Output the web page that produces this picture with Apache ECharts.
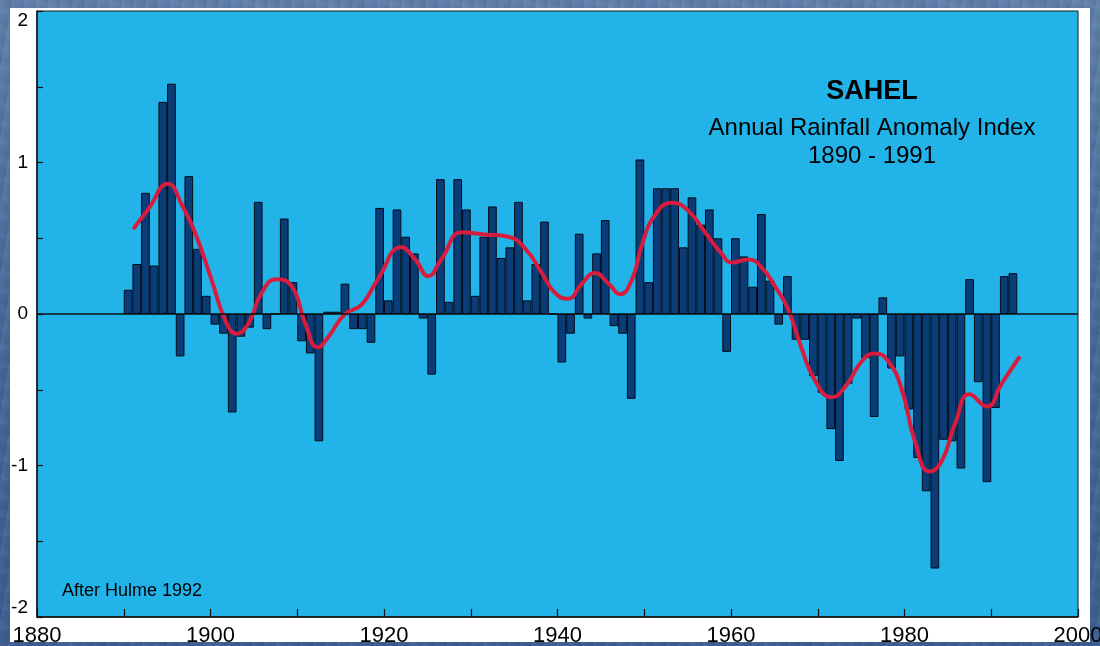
<!DOCTYPE html>
<html>
<head>
<meta charset="utf-8">
<title>Sahel Annual Rainfall Anomaly Index</title>
<script src="https://cdn.jsdelivr.net/npm/echarts@6/dist/echarts.min.js"></script>
<style>
  html, body { margin: 0; padding: 0; }
  body {
    width: 1100px; height: 646px; overflow: hidden; position: relative;
    background:
      repeating-linear-gradient(100deg, rgba(255,255,255,0.05) 0px, rgba(255,255,255,0.0) 6px, rgba(0,0,0,0.05) 12px),
      repeating-linear-gradient(15deg, rgba(255,255,255,0.04) 0px, rgba(0,0,0,0.04) 9px, rgba(255,255,255,0.0) 18px),
      linear-gradient(180deg, #5f7fab 0%, #47699a 50%, #3b5e91 100%);
  }
  #panel { position: absolute; left: 10px; top: 8px; width: 1080px; height: 634px; background: #ffffff; }
  #chart { position: absolute; left: 0; top: 0; width: 1100px; height: 646px; }
</style>
</head>
<body>
<div id="panel"></div>
<div id="chart"></div>
<script>
// Sahel annual rainfall anomaly index, one bar per year starting in firstYear
const firstYear = 1890;
const anomalies = [
  0.16, 0.33, 0.80, 0.32, 1.40, 1.52, -0.28, 0.91, 0.43, 0.12,
  -0.07, -0.13, -0.65, -0.15, -0.09, 0.74, -0.10, 0.00, 0.63, 0.21,
  -0.18, -0.26, -0.84, 0.015, 0.015, 0.20, -0.10, -0.10, -0.19, 0.70,
  0.09, 0.69, 0.51, 0.40, -0.03, -0.40, 0.89, 0.08, 0.89, 0.69,
  0.12, 0.51, 0.71, 0.37, 0.44, 0.74, 0.09, 0.33, 0.61, 0.00,
  -0.32, -0.13, 0.53, -0.03, 0.40, 0.62, -0.08, -0.13, -0.56, 1.02,
  0.21, 0.83, 0.83, 0.83, 0.44, 0.77, 0.59, 0.69, 0.50, -0.25,
  0.50, 0.38, 0.18, 0.66, 0.22, -0.07, 0.25, -0.17, -0.17, -0.41,
  -0.52, -0.76, -0.97, -0.46, -0.03, -0.29, -0.68, 0.11, -0.36, -0.28,
  -0.63, -0.95, -1.17, -1.68, -0.83, -0.84, -1.02, 0.23, -0.45, -1.11,
  -0.62, 0.25, 0.27
];

// Smoothed (filtered) series, sampled as [time in years, index]
const smoothYears = [
  1891.1, 1892.8, 1895.1, 1896.7, 1898.2, 1900.1, 1901.7, 1903.0, 1904.4, 1905.9,
  1907.6, 1909.4, 1910.9, 1912.4, 1913.6, 1915.5, 1917.4, 1919.3, 1922.0, 1923.6,
  1925.1, 1926.6, 1929.0, 1931.6, 1934.3, 1936.3, 1938.2, 1939.7, 1941.2, 1942.8,
  1944.3, 1945.9, 1947.2, 1948.6, 1949.7, 1951.2, 1953.2, 1955.1, 1957.0, 1958.9,
  1960.1, 1962.0, 1963.5, 1965.1, 1966.6, 1968.1, 1969.7, 1971.6, 1973.3, 1975.1,
  1976.6, 1978.1, 1979.7, 1981.2, 1982.9, 1984.3, 1985.8, 1987.5, 1989.5, 1991.2,
  1993.3
];
const smoothValues = [
  0.56, 0.69, 0.86, 0.72, 0.54, 0.23, -0.04, -0.13, -0.06, 0.14,
  0.23, 0.18, -0.06, -0.22, -0.15, 0.00, 0.06, 0.23, 0.44, 0.36,
  0.25, 0.36, 0.54, 0.525, 0.51, 0.43, 0.27, 0.14, 0.10, 0.20,
  0.27, 0.20, 0.13, 0.23, 0.45, 0.65, 0.735, 0.68, 0.54, 0.40,
  0.34, 0.36, 0.31, 0.18, 0.03, -0.22, -0.44, -0.55, -0.47, -0.31,
  -0.26, -0.31, -0.50, -0.84, -1.04, -0.97, -0.73, -0.53, -0.61, -0.46,
  -0.28
];

// Axis ranges and tick labels
const xMin = 1880, xMax = 2000, xTickStep = 10, xLabelStep = 20;
const yMin = -2, yMax = 2, yTickStep = 0.5;

const titleLines = ['SAHEL', 'Annual Rainfall Anomaly Index', '1890 - 1991'];
const sourceNote = 'After Hulme 1992';

const grid = { left: 37, top: 11, right: 22, bottom: 29 };
const plotWidth = 1100 - grid.left - grid.right;
const yearWidth = plotWidth / (xMax - xMin);

// each bar covers its whole year, so it sits at the middle of that year
const barData = anomalies.map((v, i) => [firstYear + i + 0.5, v]);
const lineData = smoothYears.map((y, i) => [y, smoothValues[i]]);

const font = '"Liberation Sans", Arial, sans-serif';
const chart = echarts.init(document.getElementById('chart'), null, { renderer: 'canvas' });

chart.setOption({
  backgroundColor: 'transparent',
  animation: false,
  grid: Object.assign({
    show: true, backgroundColor: '#22b4e8', borderColor: '#1a1a1a', borderWidth: 1,
    containLabel: false, outerBoundsMode: 'none'
  }, grid),
  xAxis: {
    type: 'value', min: xMin, max: xMax, interval: xTickStep,
    axisLine: { show: true, onZero: false, lineStyle: { color: '#111', width: 1.5 } },
    axisTick: { show: true, inside: true, length: 8, lineStyle: { color: '#111', width: 1.2 } },
    axisLabel: {
      color: '#000', fontSize: 22, fontFamily: font, margin: 8,
      formatter: v => (v % xLabelStep === 0 ? String(v) : '')
    },
    splitLine: { show: false }
  },
  yAxis: {
    type: 'value', min: yMin, max: yMax, interval: yTickStep,
    axisLine: { show: true, lineStyle: { color: '#111', width: 1.5 } },
    axisTick: { show: true, inside: true, length: 6, lineStyle: { color: '#111', width: 1.2 } },
    axisLabel: {
      color: '#000', fontSize: 19, fontFamily: font, margin: 9,
      verticalAlignMaxLabel: 'top', verticalAlignMinLabel: 'bottom',
      formatter: v => (Number.isInteger(v) ? String(v) : '')
    },
    splitLine: { show: false }
  },
  series: [
    {
      type: 'bar',
      data: barData,
      barWidth: yearWidth,
      itemStyle: { color: '#0a3c78', borderColor: '#030b16', borderWidth: 1 },
      markLine: {
        silent: true, symbol: 'none', label: { show: false },
        lineStyle: { color: '#111', width: 1.6, type: 'solid' },
        data: [{ yAxis: 0 }]
      },
      z: 2
    },
    {
      type: 'line',
      data: lineData,
      smooth: 0.5,
      showSymbol: false,
      lineStyle: { color: '#d81c3e', width: 4 },
      z: 3
    }
  ],
  graphic: [
    { type: 'text', z: 10, x: 872, y: 92,
      style: { text: titleLines[0], font: 'bold 27px ' + font, fill: '#000', textAlign: 'center', textVerticalAlign: 'middle' } },
    { type: 'text', z: 10, x: 872, y: 128,
      style: { text: titleLines[1], font: '24px ' + font, fill: '#000', textAlign: 'center', textVerticalAlign: 'middle' } },
    { type: 'text', z: 10, x: 872, y: 156,
      style: { text: titleLines[2], font: '24px ' + font, fill: '#000', textAlign: 'center', textVerticalAlign: 'middle' } },
    { type: 'text', z: 10, x: 62, y: 591,
      style: { text: sourceNote, font: '18px ' + font, fill: '#000', textAlign: 'left', textVerticalAlign: 'middle' } }
  ]
});
</script>
</body>
</html>
